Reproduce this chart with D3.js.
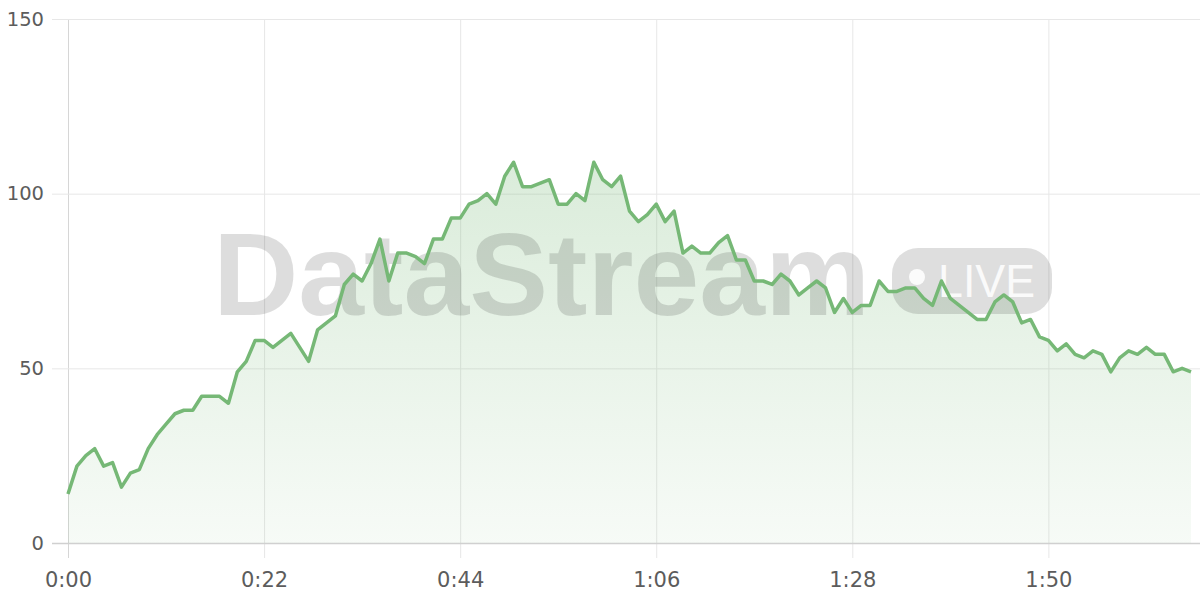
<!DOCTYPE html>
<html><head><meta charset="utf-8">
<script src="https://cdn.jsdelivr.net/npm/d3@7/dist/d3.min.js"></script>
<style>html,body{margin:0;padding:0;background:#fff;}svg{display:block}</style>
</head><body><svg id="c" width="1200" height="600"></svg>
<script>
const seconds = [0,1,2,3,4,5,6,7,8,9,10,11,12,13,14,15,16,17,18,19,20,21,22,23,24,25,26,27,28,29,30,31,32,33,34,35,36,37,38,39,40,41,42,43,44,45,46,47,48,49,50,51,52,53,54,55,56,57,58,59,60,61,62,63,64,65,66,67,68,69,70,71,72,73,74,75,76,77,78,79,80,81,82,83,84,85,86,87,88,89,90,91,92,93,94,95,96,97,98,99,100,101,102,103,104,105,106,107,108,109,110,111,112,113,114,115,116,117,118,119,120,121,122,123,124,125,126];
const values = [14,22,25,27,22,23,16,20,21,27,31,34,37,38,38,42,42,42,40,49,52,58,58,56,58,60,56,52,61,63,65,74,77,75,80,87,75,83,83,82,80,87,87,93,93,97,98,100,97,105,109,102,102,103,104,97,97,100,98,109,104,102,105,95,92,94,97,92,95,83,85,83,83,86,88,81,81,75,75,74,77,75,71,73,75,73,66,70,66,68,68,75,72,72,73,73,70,68,75,70,68,66,64,64,69,71,69,63,64,59,58,55,57,54,53,55,54,49,53,55,54,56,54,54,49,50,49];
const yTicks = [0,50,100,150];
const xTicks = [0,22,44,66,88,110];
const xTickLabels = ["0:00","0:22","0:44","1:06","1:28","1:50"];
const watermarkText = "DataStream";
const badgeText = "LIVE";

const data = seconds.map((s,i)=>({s, v: values[i]}));
const svg = d3.select("#c");
const L = 68, R = 1191, T = 19, B = 543, W = 1200;
const x = d3.scaleLinear().domain([0, 126]).range([L, R]);
const y = d3.scaleLinear().domain([0, 150]).range([B, T]);
const lineColor = "#76b876";
const font = "'DejaVu Sans', sans-serif";

const defs = svg.append("defs");
const grad = defs.append("linearGradient").attr("id","fillg")
  .attr("gradientUnits","userSpaceOnUse").attr("x1",0).attr("x2",0)
  .attr("y1", y(110)).attr("y2", y(0));
grad.append("stop").attr("offset","0%").attr("stop-color",lineColor).attr("stop-opacity",0.27);
grad.append("stop").attr("offset","100%").attr("stop-color",lineColor).attr("stop-opacity",0.06);

// grid via axes
const yAxis = d3.axisLeft(y).tickValues(yTicks).tickSizeInner(-(W - L)).tickSizeOuter(0).tickPadding(24);
const gy = svg.append("g").attr("transform",`translate(${L},0)`).call(yAxis);
gy.select(".domain").remove();
gy.selectAll(".tick line").attr("x1",-16).attr("stroke", d => d===0 ? "#d0d0d0" : "#e7e7e7").attr("stroke-width", d=> d===0?1.5:1);
gy.selectAll(".tick text").attr("fill","#5c5c5c").style("font-family",font).style("font-size","19.5px");

const xAxis = d3.axisBottom(x).tickValues(xTicks).tickFormat((d,i)=>xTickLabels[i]).tickSizeInner(-(B - T)).tickSizeOuter(0).tickPadding(29);
const gx = svg.append("g").attr("transform",`translate(0,${B})`).call(xAxis);
gx.select(".domain").remove();
gx.selectAll(".tick line").attr("y1",15).attr("stroke", d => d===0 ? "#d6d6d6" : "#e7e7e7");
gx.selectAll(".tick text").attr("fill","#5c5c5c").style("font-family",font).style("font-size","21px");
gy.raise();

// area
svg.append("path").datum(data)
  .attr("d", d3.area().x(d=>x(d.s)).y0(y(0)).y1(d=>y(d.v)))
  .attr("fill","url(#fillg)");

// watermark
const wm = svg.append("g");
wm.append("text").attr("x",213).attr("y",315)
  .attr("textLength",657).attr("lengthAdjust","spacingAndGlyphs")
  .style("font-family","'Liberation Sans', Arial, sans-serif").style("font-weight","bold").style("font-size","117px")
  .attr("fill","rgba(0,0,0,0.135)").text(watermarkText);
wm.append("rect").attr("x",892).attr("y",248).attr("width",160).attr("height",66).attr("rx",26)
  .attr("fill","rgba(0,0,0,0.13)");
wm.append("circle").attr("cx",917).attr("cy",277).attr("r",8).attr("fill","rgba(255,255,255,0.88)");
wm.append("text").attr("x",938).attr("y",297)
  .attr("textLength",97).attr("lengthAdjust","spacingAndGlyphs")
  .style("font-family","'Liberation Sans', Arial, sans-serif").style("font-size","47px")
  .attr("fill","rgba(255,255,255,0.88)").text(badgeText);

// line
svg.append("path").datum(data)
  .attr("d", d3.line().x(d=>x(d.s)).y(d=>y(d.v)))
  .attr("fill","none").attr("stroke",lineColor).attr("stroke-width",3.5).attr("stroke-linejoin","round");
</script></body></html>
